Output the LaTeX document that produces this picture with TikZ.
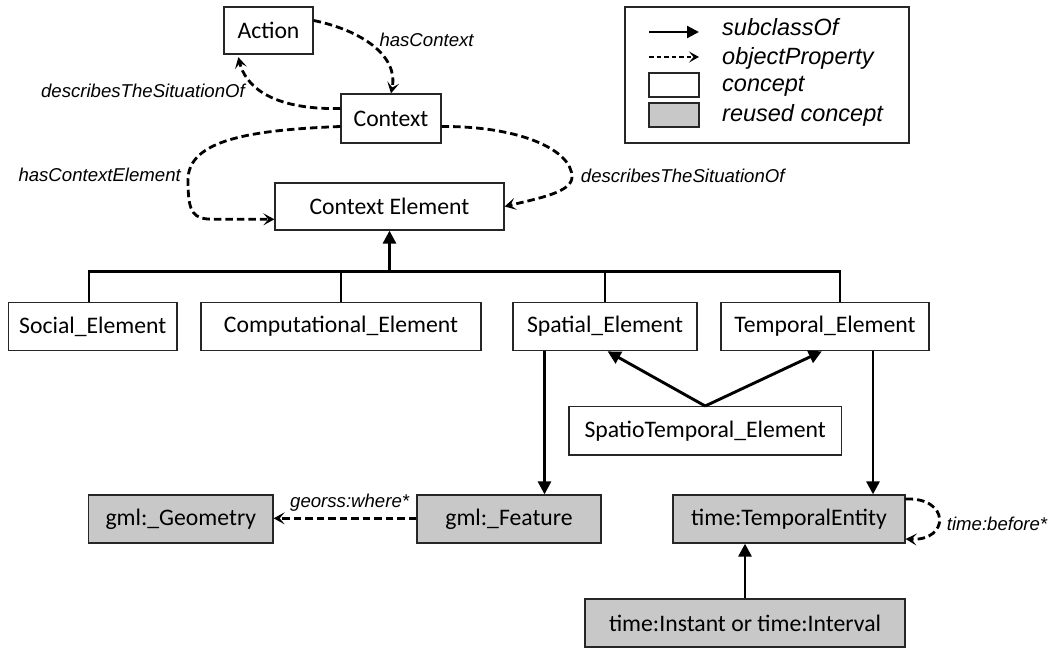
\documentclass[tikz,border=0pt]{standalone}
\usepackage{fontspec}
\setmainfont{Carlito}
\newfontfamily\arialf{Liberation Sans}
\usetikzlibrary{arrows.meta,calc}
\definecolor{reusedgray}{RGB}{200,200,200}
\begin{document}
\begin{tikzpicture}[x=1pt,y=-1pt,
  concept/.style={draw=black!85, line width=1.3pt, fill=white, inner sep=0pt, font=\fontsize{23.7}{28}\selectfont},
  reused/.style={concept, fill=reusedgray},
  tree/.style={line width=2.9pt},
  sub/.style={line width=2.9pt, -{Triangle[length=13pt,width=13pt]}},
  objprop/.style={line width=2.8pt, dash pattern=on 7.5pt off 4pt, -{Stealth[length=11pt,width=12pt,inset=5pt]}},
  lbl/.style={font=\arialf\itshape\fontsize{18.6}{22}\selectfont, inner sep=0pt},
  leg/.style={font=\arialf\itshape\fontsize{23.5}{28}\selectfont, inner sep=0pt, anchor=base west}]
\useasboundingbox (0,0) rectangle (1059,648);

% concepts
\node[concept, minimum width=89pt, minimum height=47pt] (action) at (268.5,30.5) {Action};
\node[concept, minimum width=100pt, minimum height=49pt] (context) at (391,118.5) {Context};
\node[concept, minimum width=229pt, minimum height=47pt] (ce) at (389.5,206.5) {Context Element};
\node[concept, minimum width=168.5pt, minimum height=48.4pt] (social) at (92.75,326.5) {Social\_Element};
\node[concept, minimum width=280pt, minimum height=48.4pt] (comp) at (341,326.5) {Computational\_Element};
\node[concept, minimum width=184pt, minimum height=48.4pt] (spatial) at (605,326.5) {Spatial\_Element};
\node[concept, minimum width=208pt, minimum height=48.4pt] (temporal) at (825,326.5) {Temporal\_Element};
\node[concept, minimum width=272.4pt, minimum height=48.3pt] (st) at (705.2,430.8) {SpatioTemporal\_Element};
\node[reused, minimum width=184.4pt, minimum height=48pt] (geom) at (180.8,519) {gml:\_Geometry};
\node[reused, minimum width=184pt, minimum height=48pt] (feature) at (509,519) {gml:\_Feature};
\node[reused, minimum width=232pt, minimum height=48pt] (te) at (789,519) {time:TemporalEntity};
\node[reused, minimum width=320pt, minimum height=48pt] (inst) at (745,623) {time:Instant or time:Interval};

% subclass tree
\coordinate (busL) at (89,271.5);
\coordinate (busR) at (840,271.5);
\draw[tree] (busL |- social.north) -- (busL) -- (busR) -- (busR |- temporal.north);
\draw[tree] (comp.north) -- (comp.north |- busL);
\draw[tree] (spatial.north) -- (spatial.north |- busL);
\draw[sub] (ce.south |- busL) -- (ce.south);

\coordinate (sfx) at (544.5,0);
\coordinate (tex) at (873,0);
\draw[sub] (spatial.south -| sfx) -- (feature.north -| sfx);
\draw[sub] (temporal.south -| tex) -- (te.north -| tex);
\draw[sub] (st.north) -- ([xshift=2.6pt]spatial.south);
\draw[sub] (st.north) -- ([xshift=-3.2pt]temporal.south);
\draw[sub] (inst.north) -- (inst.north |- te.south);

% object properties
\draw[objprop] ([yshift=10pt]action.east) .. controls (360,30) and (399,55) .. (context.north);
\draw[objprop] ([yshift=10pt]context.west) .. controls (270,110) and (245,85) .. ([xshift=15pt,yshift=-2.5pt]action.south west);
\draw[objprop] ([yshift=-8pt]context.west) .. controls (250,130) and (188,140) .. (188,180)
   .. controls (188,214) and (193,219.3) .. (215,219.3) -- ([yshift=-12.8pt]ce.west);
\draw[objprop] ([yshift=-8pt]context.east) .. controls (520,126) and (572,150) .. (572,177)
   .. controls (572,192) and (540,198) .. (ce.east);
\draw[objprop] (feature.west |- 0,518.3) -- (geom.east |- 0,518.3);
\draw[objprop] ([yshift=20pt]te.east) .. controls (950,497) and (950,541) .. ([yshift=-20pt]te.east);

% labels
\node[lbl, anchor=base west] (l1) at (379.3,46.7) {hasContext};
\node[lbl, anchor=base east] (l2) at (245,97) {describesTheSituationOf};
\node[lbl, anchor=base west] (l3) at (18.3,181.7) {hasContextElement};
\node[lbl, anchor=base west] (l4) at (580.7,182) {describesTheSituationOf};
\node[lbl, anchor=base west] (l5) at (290,507) {georss:where*};
\node[lbl, anchor=base west] (l6) at (946.7,530) {time:before*};

% legend
\node[draw=black!85, line width=1.3pt, minimum width=284pt, minimum height=136pt, inner sep=0pt] (legend) at (767,75) {};
\coordinate (la1) at (649,32);
\coordinate (lb1) at (699,32);
\coordinate (la2) at (649,57);
\coordinate (lb2) at (699,57);
\draw[line width=2.2pt, -{Triangle[length=12pt,width=12pt]}] (la1) -- (lb1);
\draw[line width=2.2pt, dash pattern=on 4.5pt off 3pt, -{Stealth[length=10pt,width=11pt,inset=4.5pt]}] (la2) -- (lb2);
\node[concept, minimum width=50pt, minimum height=24pt] (lc) at (674,85) {};
\node[reused, minimum width=50pt, minimum height=24pt] (lr) at (674,115) {};
\node[leg] (t1) at (722,35.7) {subclassOf};
\node[leg] (t2) at (722,64) {objectProperty};
\node[leg] (t3) at (722,91.7) {concept};
\node[leg] (t4) at (722,121.7) {reused concept};
\end{tikzpicture}
\end{document}
